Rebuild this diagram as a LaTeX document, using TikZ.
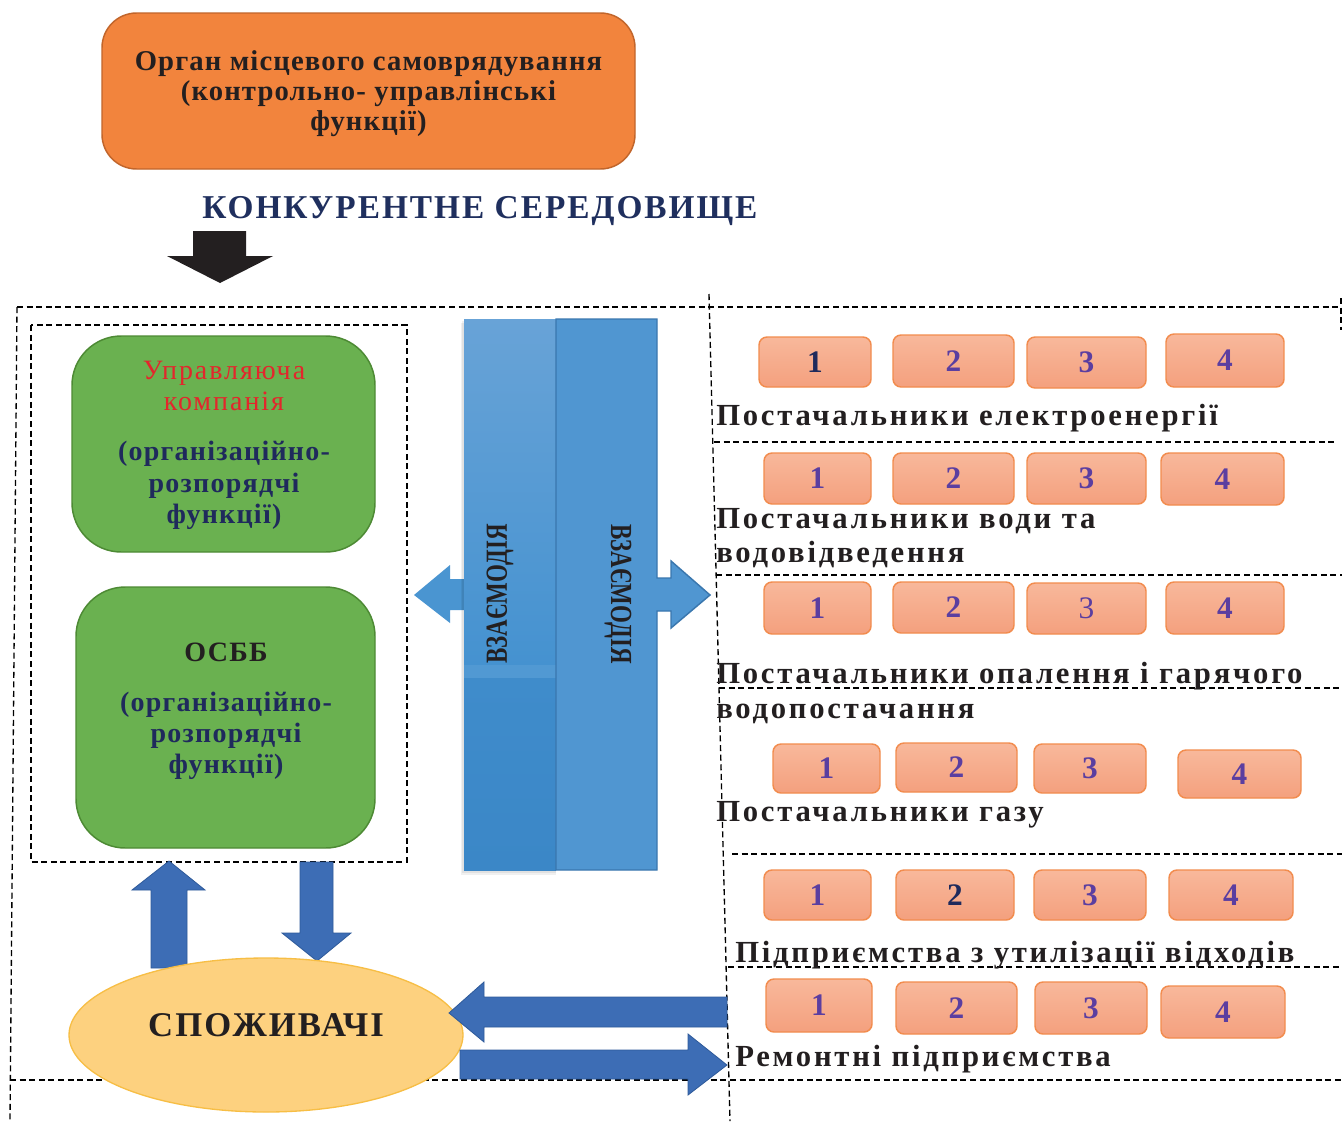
\documentclass[tikz,border=0pt]{standalone}
\usepackage{fontspec}
\setmainfont{Liberation Serif}
\newfontfamily\fTop[LetterSpace=4]{Liberation Serif}
\newfontfamily\fTitle[LetterSpace=6]{Liberation Serif}
\newfontfamily\fGreen[LetterSpace=4.5]{Liberation Serif}
\newfontfamily\fRed[LetterSpace=7]{Liberation Serif}
\newfontfamily\fLab[LetterSpace=9]{Liberation Serif}
\newfontfamily\fEll[LetterSpace=6]{Liberation Serif}
\usetikzlibrary{shapes.geometric}
\definecolor{orFill}{HTML}{F2843D}
\definecolor{orDraw}{HTML}{C1652B}
\definecolor{grFill}{HTML}{6AB150}
\definecolor{grDraw}{HTML}{4D8A34}
\definecolor{navyT}{HTML}{1F2A5C}
\definecolor{titleT}{HTML}{1F2F5E}
\definecolor{redT}{HTML}{E3262C}
\definecolor{darkT}{HTML}{231F20}
\definecolor{purpT}{HTML}{5B3EA0}
\definecolor{arBlue}{HTML}{3D6DB5}
\definecolor{arBlueD}{HTML}{2E5A9A}
\definecolor{barTop}{HTML}{68A3D7}
\definecolor{barMid}{HTML}{4592D0}
\definecolor{barBand}{HTML}{5199D3}
\definecolor{barLow}{HTML}{3F8CCB}
\definecolor{barBot}{HTML}{3B87C7}
\definecolor{barR}{HTML}{5096D1}
\definecolor{barRD}{HTML}{3A77AE}
\definecolor{barArL}{HTML}{4A95D1}
\definecolor{elFill}{HTML}{FDD17F}
\definecolor{elDraw}{HTML}{F7BE45}
\definecolor{salTop}{HTML}{F8B89B}
\definecolor{salBot}{HTML}{F4A07E}
\definecolor{salDraw}{HTML}{F28C4E}
\newcommand\numbox[7]{%
  \node[nbox, text=#6, minimum width={(#3-#2)*0.75pt}, minimum height={(#5-#4)*0.75pt}] (#1) at ({(#2+#3)/2},{(#4+#5)/2}) {\raisebox{-3.5pt}{#7}};}
\begin{document}
\begin{tikzpicture}[x=0.75pt,y=-0.75pt,
  dashln/.style={draw=black, line width=1pt, dash pattern=on 4.5pt off 2.7pt},
  nbox/.style={draw=salDraw, line width=1.1pt, rounded corners=6pt, top color=salTop, bottom color=salBot, inner sep=0pt, outer sep=0pt, font=\bfseries\fontsize{23.5pt}{27pt}\selectfont},
  topline/.style={font=\fTop\bfseries\fontsize{21.5pt}{24pt}\selectfont, text=darkT, inner sep=0pt, anchor=base},
  grline/.style={font=\fGreen\bfseries\fontsize{21pt}{24pt}\selectfont, text=navyT, inner sep=0pt, anchor=base},
  redline/.style={font=\fRed\fontsize{21pt}{24pt}\selectfont, text=redT, inner sep=0pt, anchor=base},
  labline/.style={font=\fLab\bfseries\fontsize{23pt}{27pt}\selectfont, text=darkT, inner sep=0pt, anchor=base west},
  blockar/.style={fill=arBlue, draw=arBlueD, line width=0.6pt}
]
\useasboundingbox (0,0) rectangle (1342,1121);
\fill[white] (0,0) rectangle (1342,1121);

% dashed frames
\draw[dashln] (17,307) -- (1342,307);
\draw[dashln] (17,307) -- (10,1121);
\draw[dashln] (709,294) -- (730,1121);
\draw[dashln] (1341,298) -- (1341,330);
\draw[dashln] (714,442) -- (1335,442);
\draw[dashln] (716,575) -- (1342,575);
\draw[dashln] (719,688) -- (1342,688);
\draw[dashln] (732,854) -- (1342,854);
\draw[dashln] (728,967) -- (1342,967);
\draw[dashln] (10,1080) -- (1342,1080);
\draw[dashln] (31,325) rectangle (407,862);

% top box
\node[draw=orDraw, fill=orFill, line width=1.1pt, rounded corners=26pt, minimum width=399.75pt, minimum height=117pt, inner sep=0pt] (organ) at (368.5,91) {};
\node[topline] (organ1) at (368.5,70) {Орган місцевого самоврядування};
\node[topline] (organ2) at (368.5,100) {(контрольно- управлінські};
\node[topline] (organ3) at (368.5,130) {функції)};

% title
\node[font=\fTitle\bfseries\fontsize{25pt}{28pt}\selectfont, text=titleT, inner sep=0pt, anchor=base west] (title) at (202,218) {КОНКУРЕНТНЕ СЕРЕДОВИЩЕ};

% black arrow
\fill[darkT] (193,231) -- (246,231) -- (246,256) -- (273,256) -- (220,283) -- (167,256) -- (193,256) -- cycle;

% green box 1
\node[draw=grDraw, fill=grFill, line width=1.1pt, rounded corners=37pt, minimum width=227.25pt, minimum height=162pt, inner sep=0pt] (uk) at (223.5,444) {};
\node[redline] (uk1) at (224,379) {Управляюча};
\node[redline] (uk2) at (224,410) {компанія};
\node[grline] (uk3) at (224,460) {(організаційно-};
\node[grline] (uk4) at (224,492) {розпорядчі};
\node[grline] (uk5) at (224,523) {функції)};

% green box 2
\node[draw=grDraw, fill=grFill, line width=1.1pt, rounded corners=37pt, minimum width=224.25pt, minimum height=195.75pt, inner sep=0pt] (osbb) at (225.5,717.5) {};
\node[grline, text=darkT] (osbb1) at (226,661) {ОСББ};
\node[grline] (osbb2) at (226,711) {(організаційно-};
\node[grline] (osbb3) at (226,742) {розпорядчі};
\node[grline] (osbb4) at (226,773) {функції)};

% blue bar: left arrow, shadow, left column
\fill[barArL] (464,579) -- (450,579) -- (450,565) -- (414,595) -- (450,623) -- (450,610) -- (464,610) -- cycle;
\fill[black, opacity=0.06] (461,323) rectangle (556,875);
\fill[black, opacity=0.06] (462,321) rectangle (556,873);
\fill[top color=barTop, bottom color=barMid] (464,319) rectangle (556,665);
\fill[barBand] (464,665) rectangle (556,678);
\fill[top color=barLow, bottom color=barBot] (464,678) rectangle (556,870);
\draw[fill=barR, draw=barRD, line width=1.1pt] (556,319) -- (657,319) -- (657,578) -- (671,578) -- (671,561) -- (710,595) -- (671,628) -- (671,611) -- (657,611) -- (657,870) -- (556,870) -- cycle;
\node[rotate=90, font=\bfseries\fontsize{23pt}{26pt}\selectfont, text=darkT, inner sep=0pt] (vz1) at (500,594) {\scalebox{0.75}[1]{ВЗАЄМОДІЯ}};
\node[rotate=-90, font=\bfseries\fontsize{23pt}{26pt}\selectfont, text=darkT, inner sep=0pt] (vz2) at (618,594) {\scalebox{0.75}[1]{ВЗАЄМОДІЯ}};

% arrows to/from consumers
\path[blockar] (151,968) -- (151,890) -- (132,890) -- (169,861) -- (205,890) -- (187,890) -- (187,968) -- cycle;
\path[blockar] (300,862) -- (333,862) -- (333,933) -- (351,933) -- (317,961) -- (282,933) -- (300,933) -- cycle;

% consumers ellipse
\node[ellipse, draw=elDraw, fill=elFill, line width=1pt, minimum width=295.5pt, minimum height=115.5pt, inner sep=0pt] (cons) at (266,1035) {};
\node[font=\fEll\bfseries\fontsize{26pt}{30pt}\selectfont, text=darkT, inner sep=0pt, anchor=base] (cons1) at (266,1036) {СПОЖИВАЧІ};

% bottom arrows
\path[blockar] (727,997) -- (484,997) -- (484,982) -- (449,1013) -- (484,1042) -- (484,1027) -- (727,1027) -- cycle;
\path[blockar] (460,1050) -- (688,1050) -- (688,1034) -- (727,1065) -- (688,1095) -- (688,1079) -- (460,1079) -- cycle;

% numbered boxes
\numbox{a1}{759}{871}{337}{387}{navyT}{1}
\numbox{a2}{893}{1014}{335}{387}{purpT}{2}
\numbox{a3}{1027}{1146}{337}{388}{purpT}{3}
\numbox{a4}{1166}{1284}{334}{387}{purpT}{4}
\numbox{b1}{764}{871}{453}{504}{purpT}{1}
\numbox{b2}{893}{1014}{453}{504}{purpT}{2}
\numbox{b3}{1027}{1146}{453}{504}{purpT}{3}
\numbox{b4}{1161}{1284}{453}{505}{purpT}{4}
\numbox{c1}{764}{871}{582}{634}{purpT}{1}
\numbox{c2}{893}{1014}{582}{633}{purpT}{2}
\numbox{c3}{1027}{1146}{583}{634}{purpT}{\mdseries 3}
\numbox{c4}{1166}{1284}{582}{634}{purpT}{4}
\numbox{d1}{773}{880}{744}{793}{purpT}{1}
\numbox{d2}{896}{1017}{743}{792}{purpT}{2}
\numbox{d3}{1034}{1146}{744}{793}{purpT}{3}
\numbox{d4}{1178}{1301}{750}{798}{purpT}{4}
\numbox{e1}{764}{871}{870}{920}{purpT}{1}
\numbox{e2}{896}{1014}{870}{920}{navyT}{2}
\numbox{e3}{1034}{1146}{870}{920}{purpT}{3}
\numbox{e4}{1169}{1293}{870}{920}{purpT}{4}
\numbox{f1}{766}{872}{979}{1032}{purpT}{1}
\numbox{f2}{896}{1017}{982}{1034}{purpT}{2}
\numbox{f3}{1035}{1147}{982}{1034}{purpT}{3}
\numbox{f4}{1161}{1285}{986}{1038}{purpT}{4}

% supplier labels
\node[labline] (l1) at (716,425) {Постачальники електроенергії};
\node[labline] (l2a) at (716,528) {Постачальники води та};
\node[labline] (l2b) at (716,562) {водовідведення};
\node[labline] (l3a) at (716,683) {Постачальники опалення і гарячого};
\node[labline] (l3b) at (716,718) {водопостачання};
\node[labline] (l4) at (716,821) {Постачальники газу};
\node[labline] (l5) at (735,962) {Підприємства з утилізації відходів};
\node[labline] (l6) at (735,1066) {Ремонтні підприємства};
\end{tikzpicture}
\end{document}
